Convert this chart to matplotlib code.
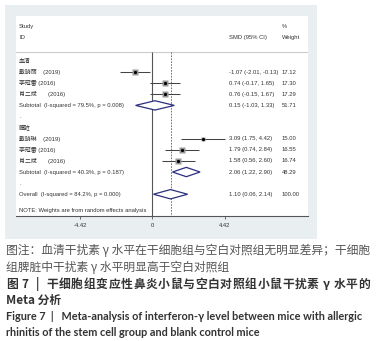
import matplotlib
matplotlib.use("Agg")
import matplotlib.pyplot as plt
from matplotlib.patches import Rectangle, Polygon
from matplotlib.transforms import blended_transform_factory

# ---------------- data ----------------
group_names = ["血清", "脾脏"]
study_labels = [
    ["戴晓丽    (2019)", "李冠雷 (2016)", "肖二斌       (2016)"],
    ["戴晓琳    (2019)", "李冠雷 (2016)", "肖二斌       (2016)"],
]
study_smd = [[-1.07, 0.74, 0.76], [3.09, 1.79, 1.58]]
study_lo = [[-2.01, -0.17, -0.15], [1.75, 0.74, 0.56]]
study_hi = [[-0.13, 1.65, 1.67], [4.42, 2.84, 2.60]]
study_w = [[17.12, 17.30, 17.29], [15.00, 16.55, 16.74]]
sub_labels = ["Subtotal  (I-squared = 79.5%, p = 0.008)",
              "Subtotal  (I-squared = 40.3%, p = 0.187)"]
sub_smd = [0.15, 2.06]
sub_lo = [-1.03, 1.22]
sub_hi = [1.33, 2.90]
sub_w = [51.71, 48.29]
overall_label = "Overall  (I-squared = 84.2%, p = 0.000)"
overall_smd = 1.10
overall_lo = 0.06
overall_hi = 2.14
overall_w = 100.00
xticks = [-4.42, 0, 4.42]
xticklabels = ["-4.42", "0", "4.42"]
note = "NOTE: Weights are from random effects analysis"

caption_lines = [
    "图注：血清干扰素 γ 水平在干细胞组与空白对照组无明显差异；干细胞",
    "组脾脏中干扰素 γ 水平明显高于空白对照组",
    "图 7  |  干细胞组变应性鼻炎小鼠与空白对照组小鼠干扰素 γ 水平的",
    "Meta 分析",
    "Figure 7  |   Meta-analysis of interferon-γ level between mice with allergic",
    "rhinitis of the stem cell group and blank control mice",
]

# ---------------- figure ----------------
W, H = 381, 341
fig = plt.figure(figsize=(W / 100, H / 100), dpi=100)
fig.patch.set_facecolor("white")

def fx(px):
    return px / W

def fy(py):
    return 1 - py / H

fig.patches.append(Rectangle((fx(5), fy(239)), fx(317) - fx(5), fy(5) - fy(239),
                             transform=fig.transFigure, facecolor="#e9eef1",
                             edgecolor="none", zorder=-5))

ax = fig.add_axes([fx(16), fy(216), fx(308) - fx(16), fy(16) - fy(216)])
ax.set_zorder(1)
ax.set_facecolor("white")
ax.set_xlim(-8.32, 9.48)
ax.set_ylim(13.96, -4.05)
for s in ["top", "right", "left"]:
    ax.spines[s].set_visible(False)
ax.spines["bottom"].set_color("#555555")
ax.spines["bottom"].set_linewidth(0.8)
ax.set_yticks([])
ax.set_xticks(xticks)
ax.set_xticklabels(xticklabels)
ax.tick_params(axis="x", length=2.2, width=0.6, color="#555555", labelsize=4.2,
               pad=2.5, labelcolor="#333333")
for t in ax.get_xticklabels():
    t.set_fontfamily("Liberation Sans")

tr = blended_transform_factory(ax.transAxes, ax.transData)
fam = ["Liberation Sans", "Noto Sans CJK SC"]
fs = 4.25
tc = "#333333"
xl, xs, xw = (19 - 16) / 292, (229 - 16) / 292, (282 - 16) / 292

def txt(x, y, s):
    ax.text(x, y, s, transform=tr, fontsize=fs, family=fam, color=tc,
            va="center", ha="left", clip_on=False)

header_y = -0.78
txt(xl, -3.09, "Study")
txt(xl, -2.07, "ID")
txt(xs, -2.07, "SMD (95% CI)")
txt(xw, -3.09, "%")
txt(xw, -2.07, "Weight")
ax.axhline(header_y, color="#cccccc", lw=0.8)

ax.vlines(0, header_y, 13.96, color="#555555", lw=0.8, zorder=2)
ax.vlines(overall_smd, header_y, 13.96, color="#b0363a", lw=0.6,
          linestyles=(0, (2, 1.5)), zorder=2)

diamond_col = "#2b2f7e"

def diamond(y, c, lo, hi):
    p = Polygon([(lo, y), (c, y - 0.42), (hi, y), (c, y + 0.42)], closed=True,
                facecolor="white", edgecolor=diamond_col, lw=0.9, zorder=3)
    ax.add_patch(p)

def fmt(c, lo, hi):
    return f"{c:.2f} ({lo:.2f}, {hi:.2f})"

row = 0
for g in range(2):
    txt(xl, row, group_names[g])
    row += 1
    for i in range(3):
        c, lo, hi, w = study_smd[g][i], study_lo[g][i], study_hi[g][i], study_w[g][i]
        ax.hlines(row, lo, hi, color="#444444", lw=0.75, zorder=3)
        ax.plot([c], [row], marker="s", ms=w * 0.22, color="#999999",
                mec="none", zorder=4)
        ax.plot([c], [row], marker="o", ms=1.3, color="black", zorder=5)
        txt(xl, row, study_labels[g][i])
        txt(xs, row, fmt(c, lo, hi))
        txt(xw, row, f"{w:.2f}")
        row += 1
    diamond(row, sub_smd[g], sub_lo[g], sub_hi[g])
    txt(xl, row, sub_labels[g])
    txt(xs, row, fmt(sub_smd[g], sub_lo[g], sub_hi[g]))
    txt(xw, row, f"{sub_w[g]:.2f}")
    row += 1
    txt(xl, row, ".")
    row += 1

diamond(row, overall_smd, overall_lo, overall_hi)
txt(xl, row, overall_label)
txt(xs, row, fmt(overall_smd, overall_lo, overall_hi))
txt(xw, row, f"{overall_w:.2f}")
txt(xl, 13.5, note)

# ---------------- caption ----------------
cap_y = [250, 267.3, 284.3, 300.7, 317, 332.3]
cjk = ["Noto Sans CJK SC", "DejaVu Sans"]
lat = ["Lato", "DejaVu Sans"]
cap_style = [
    dict(family=cjk, fontsize=8.5, color="#555555", weight="normal"),
    dict(family=cjk, fontsize=8.5, color="#555555", weight="normal"),
    dict(family=cjk, fontsize=8.5, color="#333333", weight="bold"),
    dict(family=cjk, fontsize=8.5, color="#333333", weight="bold"),
    dict(family=lat, fontsize=7.8, color="#333333", weight="bold"),
    dict(family=lat, fontsize=7.8, color="#333333", weight="bold"),
]
target_right = [370, None, 370, None, 362, None]
renderer = fig.canvas.get_renderer()
for s, y, st, tr_px in zip(caption_lines, cap_y, cap_style, target_right):
    t = fig.text(fx(6), fy(y), s, va="center", ha="left", **st)
    if tr_px is not None and "图 7" in s:
        # justify the bold Chinese title line by spreading characters
        bb = t.get_window_extent(renderer)
        extra = (tr_px - 6) - bb.width
        t.remove()
        chars = list(s)
        widths = []
        for ch in chars:
            tt = fig.text(0, 0, ch, **st)
            widths.append(tt.get_window_extent(renderer).width if ch != " " else None)
            tt.remove()
        gap = extra / (len(chars) - 1)
        xpos = 6.0
        space_w = fig.text(0, 0, "a a", **st)
        sw = space_w.get_window_extent(renderer).width
        space_w.remove()
        aa = fig.text(0, 0, "aa", **st)
        sw = sw - aa.get_window_extent(renderer).width
        aa.remove()
        for ch, wch in zip(chars, widths):
            if ch != " ":
                fig.text(fx(xpos), fy(y), ch, va="center", ha="left", **st)
                xpos += wch + gap
            else:
                xpos += sw + gap

fig.savefig("out.png", dpi=100)
